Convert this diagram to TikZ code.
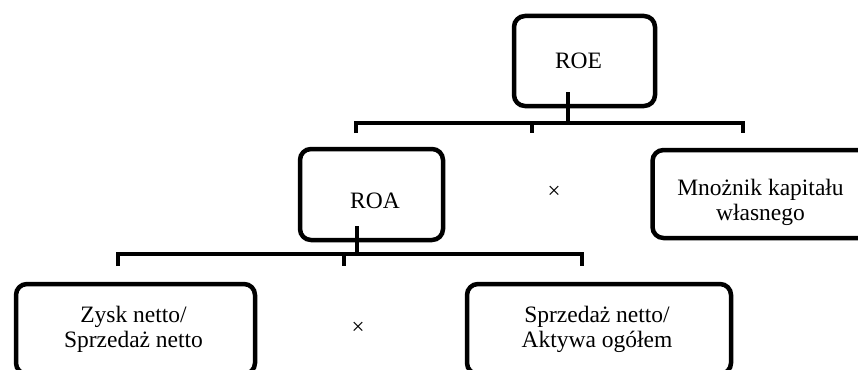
\documentclass[tikz,border=0pt]{standalone}
\usepackage{fontspec}
\setmainfont{Liberation Serif}
\begin{document}
\begin{tikzpicture}[x=1pt,y=-1pt,
  box/.style={draw=black,line width=4.5pt,rounded corners=11pt,inner sep=0pt,fill=white},
  txt/.style={inner sep=0pt,align=center,font=\fontsize{23.5}{25}\selectfont},
  conn/.style={draw=black,line width=4.5pt,line join=miter},
  mult/.style={inner sep=0pt,font=\fontsize{23}{25}\selectfont}]
\useasboundingbox (0,0) rectangle (858,369);
\clip (0,0) rectangle (858,369);
\fill[white] (0,0) rectangle (858,369);
% boxes
\node[box,minimum width=141pt,minimum height=90pt] (roe) at (584.5,61) {};
\node[box,minimum width=143pt,minimum height=91pt] (roa) at (371.5,194.5) {};
\node[box,minimum width=221pt,minimum height=88pt] (mk) at (763,194) {};
\node[box,minimum width=239pt,minimum height=90pt] (zn) at (135.5,329) {};
\node[box,minimum width=264pt,minimum height=90pt] (sn) at (599,329) {};
% texts
\node[txt,anchor=base] (roet) at (578.5,68) {ROE};
\node[txt,anchor=base] (roat) at (375,208) {ROA};
\node[txt] (mkt) at (760.5,202) {Mnożnik kapitału\\własnego};
\node[txt] (znt) at (133.5,329) {Zysk netto/\\Sprzedaż netto};
\node[txt] (snt) at (597,329) {Sprzedaż netto/\\Aktywa ogółem};
\node[mult] (x1) at (554,192) {×};
\node[mult] (x2) at (358,328) {×};
% connector coordinates
\coordinate (s1) at (568,92);
\coordinate (j1) at (568,123);
\coordinate (t1a) at (356,133);
\coordinate (t1b) at (532,133);
\coordinate (t1c) at (743,133);
\coordinate (s2) at (357,226);
\coordinate (j2) at (357,254);
\coordinate (t2a) at (118,266);
\coordinate (t2b) at (344,266);
\coordinate (t2c) at (582,266);
% top tree
\draw[conn] (s1) -- (j1);
\draw[conn] (t1a) -- (t1a |- j1) -- (t1c |- j1) -- (t1c);
\draw[conn] (t1b |- j1) -- (t1b);
% bottom tree
\draw[conn] (s2) -- (j2);
\draw[conn] (t2a) -- (t2a |- j2) -- (t2c |- j2) -- (t2c);
\draw[conn] (t2b |- j2) -- (t2b);
\end{tikzpicture}
\end{document}
